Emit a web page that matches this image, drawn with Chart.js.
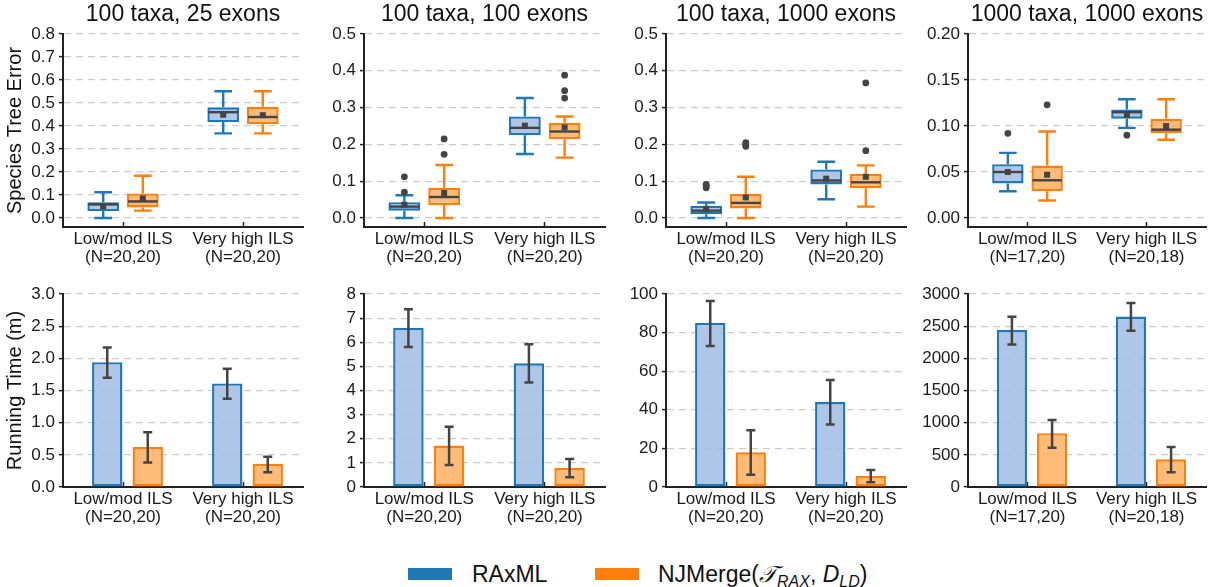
<!DOCTYPE html>
<html>
<head>
<meta charset="utf-8">
<script src="https://cdn.jsdelivr.net/npm/chart.js@4.4.1/dist/chart.umd.min.js"></script>
<style>
  body { margin: 0; background: #fff; width: 1211px; height: 587px; position: relative; overflow: hidden;
         font-family: 'Liberation Sans', Arial, sans-serif; color: #111; }
  .panel { position: absolute; }
  .swatch { position: absolute; top: 568px; width: 44px; height: 12px; }
  .key { position: absolute; top: 563px; font-size: 23px; line-height: 23px; white-space: nowrap; color: #111; }
  .key sub { font-size: 16px; font-style: italic; vertical-align: -5px; line-height: 0; }
  .key .cal { font-family: 'DejaVu Serif', serif; font-style: italic; }
</style>
</head>
<body>
<script>
// ---- data ----
const categories = ['Low/mod ILS', 'Very high ILS'];
const panelTitles = ['100 taxa, 25 exons', '100 taxa, 100 exons', '100 taxa, 1000 exons', '1000 taxa, 1000 exons'];
const sampleSizes = [
  ['(N=20,20)', '(N=20,20)'],
  ['(N=20,20)', '(N=20,20)'],
  ['(N=20,20)', '(N=20,20)'],
  ['(N=17,20)', '(N=20,18)']
];

// species tree error, per panel and category: [low whisker, q1, median, q3, high whisker]
const raxmlError = [
  [[0.000, 0.030, 0.059, 0.068, 0.112], [0.368, 0.417, 0.460, 0.481, 0.551]],
  [[0.000, 0.020, 0.031, 0.043, 0.062], [0.174, 0.225, 0.245, 0.276, 0.326]],
  [[0.000, 0.010, 0.020, 0.033, 0.042], [0.051, 0.091, 0.102, 0.132, 0.153]],
  [[0.029, 0.0375, 0.050, 0.0585, 0.0708], [0.098, 0.108, 0.115, 0.118, 0.129]]
];
const raxmlErrorMean = [[0.051, 0.449], [0.036, 0.251], [0.025, 0.107], [0.050, 0.112]];
const raxmlErrorOutliers = [
  [[], []],
  [[0.070, 0.112], []],
  [[0.082, 0.087, 0.091], []],
  [[0.092], [0.090]]
];

const njmergeError = [
  [[0.032, 0.046, 0.072, 0.107, 0.184], [0.368, 0.408, 0.439, 0.484, 0.551]],
  [[0.000, 0.035, 0.057, 0.082, 0.144], [0.164, 0.214, 0.235, 0.259, 0.276]],
  [[0.000, 0.026, 0.041, 0.065, 0.112], [0.031, 0.081, 0.097, 0.120, 0.143]],
  [[0.019, 0.029, 0.041, 0.057, 0.094], [0.085, 0.092, 0.096, 0.108, 0.129]]
];
const njmergeErrorMean = [[0.085, 0.447], [0.068, 0.246], [0.056, 0.112], [0.047, 0.100]];
const njmergeErrorOutliers = [
  [[], []],
  [[0.173, 0.215], [0.326, 0.346, 0.388]],
  [[0.195, 0.200, 0.205], [0.183, 0.367]],
  [[0.123], []]
];

// running time in minutes: mean and error bar ends
const raxmlTime = [[1.94, 1.61], [6.60, 5.13], [85, 44], [2440, 2650]];
const raxmlTimeLow = [[1.70, 1.37], [5.80, 4.33], [73, 32.4], [2216, 2429]];
const raxmlTimeHigh = [[2.17, 1.84], [7.37, 5.92], [96.4, 55.5], [2647, 2860]];
const njmergeTime = [[0.62, 0.36], [1.72, 0.80], [18, 5.7], [836, 431]];
const njmergeTimeLow = [[0.38, 0.23], [0.91, 0.40], [6.4, 2.4], [612, 228]];
const njmergeTimeHigh = [[0.85, 0.47], [2.50, 1.16], [29.4, 8.8], [1043, 623]];

// axis ranges
const errorMax = [0.8, 0.5, 0.5, 0.2];
const errorStep = [0.1, 0.1, 0.1, 0.05];
const errorDecimals = [1, 1, 1, 2];
const timeMax = [3, 8, 100, 3000];
const timeStep = [0.5, 1, 20, 500];
const timeDecimals = [1, 0, 0, 0];

// ---- styling ----
const BLUE = '#1f77b4', ORANGE = '#ff7f0e';
const BLUE_FILL = 'rgba(160,189,228,0.85)', ORANGE_FILL = 'rgba(255,175,96,0.85)';
const INK = '#444';
const FONT = "'Liberation Sans', Arial, sans-serif";

Chart.defaults.font.family = FONT;
Chart.defaults.color = '#1a1a1a';

// plot frame per column (left spine, right edge) and per row (top, bottom of plot area)
const spineX = [63, 364, 666, 968];
const rightX = [303, 605, 906, 1206];
const rows = [
  { top: 0, height: 270, plotTop: 34, plotBottom: 227 },
  { top: 270, height: 270, plotTop: 294, plotBottom: 487 }
];

// title over the plot area
const panelTitlePlugin = {
  id: 'panelTitle',
  afterDraw(chart, args, opts) {
    if (!opts.text) return;
    const { ctx, chartArea } = chart;
    ctx.save();
    ctx.font = '23px ' + FONT;
    ctx.fillStyle = '#111';
    ctx.textAlign = 'center';
    ctx.textBaseline = 'middle';
    ctx.fillText(opts.text, (chartArea.left + chartArea.right) / 2, opts.y);
    ctx.restore();
  }
};

// whiskers, medians, means and fliers on top of the floating box bars
const boxPlotPlugin = {
  id: 'boxPlot',
  afterDatasetsDraw(chart) {
    const ctx = chart.ctx;
    const y = chart.scales.y;
    chart.data.datasets.forEach((ds, i) => {
      if (!ds.stats) return;
      chart.getDatasetMeta(i).data.forEach((bar, j) => {
        const [lo, q1, med, q3, hi] = ds.stats[j];
        const x = bar.x, half = bar.width / 2, cap = bar.width * 0.28;
        ctx.save();
        ctx.strokeStyle = ds.borderColor;
        ctx.lineWidth = 2.4;
        ctx.beginPath();
        ctx.moveTo(x, y.getPixelForValue(q3)); ctx.lineTo(x, y.getPixelForValue(hi));
        ctx.moveTo(x, y.getPixelForValue(q1)); ctx.lineTo(x, y.getPixelForValue(lo));
        ctx.moveTo(x - cap, y.getPixelForValue(hi)); ctx.lineTo(x + cap, y.getPixelForValue(hi));
        ctx.moveTo(x - cap, y.getPixelForValue(lo)); ctx.lineTo(x + cap, y.getPixelForValue(lo));
        ctx.stroke();

        ctx.strokeStyle = INK;
        ctx.beginPath();
        ctx.moveTo(x - half + 1, y.getPixelForValue(med));
        ctx.lineTo(x + half - 1, y.getPixelForValue(med));
        ctx.stroke();

        ctx.fillStyle = INK;
        const my = y.getPixelForValue(ds.means[j]);
        ctx.fillRect(x - 3, my - 3, 6, 6);
        ds.outliers[j].forEach(v => {
          ctx.beginPath();
          ctx.arc(x, y.getPixelForValue(v), 3.4, 0, Math.PI * 2);
          ctx.fill();
        });
        ctx.restore();
      });
    });
  }
};

// bars sit a few pixels right of the tick; error bars follow them
const errorBarPlugin = {
  id: 'errorBars',
  beforeDatasetsDraw(chart) {
    chart.ctx.save();
    chart.ctx.translate(4.5, 0);
  },
  afterDatasetsDraw(chart) {
    const ctx = chart.ctx;
    const y = chart.scales.y;
    chart.data.datasets.forEach((ds, i) => {
      chart.getDatasetMeta(i).data.forEach((bar, j) => {
        const x = bar.x;
        const y1 = y.getPixelForValue(ds.errLow[j]);
        const y2 = y.getPixelForValue(ds.errHigh[j]);
        ctx.strokeStyle = INK;
        ctx.lineWidth = 2.5;
        ctx.beginPath();
        ctx.moveTo(x, y1); ctx.lineTo(x, y2);
        ctx.moveTo(x - 4.5, y1); ctx.lineTo(x + 4.5, y1);
        ctx.moveTo(x - 4.5, y2); ctx.lineTo(x + 4.5, y2);
        ctx.stroke();
      });
    });
    ctx.restore();
  }
};

function axisLabels(col) {
  return categories.map((c, k) => [c, sampleSizes[col][k]]);
}

function scalesFor(col, row, max, step, decimals, min, yTitle) {
  const left = col === 0 ? 0 : spineX[col] - 60;
  const r = rows[row];
  return {
    x: {
      offset: true,
      afterFit: s => { s.height = r.top + r.height - r.plotBottom; },
      ticks: { padding: 7.5, font: { size: 17, lineHeight: 1.1 }, maxRotation: 0, autoSkip: false },
      grid: { offset: false, drawOnChartArea: false, drawTicks: true, tickLength: -5,
              tickColor: '#222', tickWidth: 1.5 },
      border: { color: '#222', width: 2 }
    },
    y: {
      min: min, max: max,
      afterFit: s => { s.width = spineX[col] - left; },
      ticks: { stepSize: step, includeBounds: false, padding: 4, font: { size: 17 },
               callback: v => v.toFixed(decimals) },
      grid: { color: '#cccccc', lineWidth: 1.2, tickLength: 4, tickColor: '#222', tickWidth: 1.5,
              tickBorderDash: [] },
      border: { color: '#222', width: 2, dash: [7, 5] },
      title: { display: !!yTitle, text: yTitle || '', font: { size: 20 }, color: '#111',
               padding: { top: 3, bottom: 0 } }
    }
  };
}

function makePanel(col, row, config) {
  const left = col === 0 ? 0 : spineX[col] - 60;
  const r = rows[row];
  const div = document.createElement('div');
  div.className = 'panel';
  div.style.left = left + 'px';
  div.style.top = r.top + 'px';
  div.style.width = (rightX[col] - left + 2) + 'px';
  div.style.height = r.height + 'px';
  const canvas = document.createElement('canvas');
  div.appendChild(canvas);
  document.body.appendChild(div);
  config.options.responsive = true;
  config.options.maintainAspectRatio = false;
  config.options.animation = false;
  config.options.layout = { padding: { top: r.plotTop - r.top, right: 2, left: 0, bottom: 0 } };
  return new Chart(canvas, config);
}

for (let c = 0; c < 4; c++) {
  // species tree error boxes
  makePanel(c, 0, {
    type: 'bar',
    data: {
      labels: axisLabels(c),
      datasets: [
        { label: 'RAxML', data: raxmlError[c].map(s => [s[1], s[3]]), stats: raxmlError[c],
          means: raxmlErrorMean[c], outliers: raxmlErrorOutliers[c],
          backgroundColor: BLUE_FILL, borderColor: BLUE, borderWidth: 2.4, borderSkipped: false,
          categoryPercentage: 0.66, barPercentage: 0.8 },
        { label: 'NJMerge', data: njmergeError[c].map(s => [s[1], s[3]]), stats: njmergeError[c],
          means: njmergeErrorMean[c], outliers: njmergeErrorOutliers[c],
          backgroundColor: ORANGE_FILL, borderColor: ORANGE, borderWidth: 2.4, borderSkipped: false,
          categoryPercentage: 0.66, barPercentage: 0.8 }
      ]
    },
    options: {
      scales: scalesFor(c, 0, errorMax[c], errorStep[c], errorDecimals[c], -errorMax[c] * 9 / 184,
                        c === 0 ? 'Species Tree Error' : null),
      plugins: { legend: { display: false }, tooltip: { enabled: false },
                 panelTitle: { text: panelTitles[c], y: 15 } }
    },
    plugins: [panelTitlePlugin, boxPlotPlugin]
  });

  // running time bars
  makePanel(c, 1, {
    type: 'bar',
    data: {
      labels: axisLabels(c),
      datasets: [
        { label: 'RAxML', data: raxmlTime[c], errLow: raxmlTimeLow[c], errHigh: raxmlTimeHigh[c],
          backgroundColor: BLUE_FILL, borderColor: BLUE, borderWidth: 2.4, borderSkipped: false,
          categoryPercentage: 0.675, barPercentage: 0.75 },
        { label: 'NJMerge', data: njmergeTime[c], errLow: njmergeTimeLow[c], errHigh: njmergeTimeHigh[c],
          backgroundColor: ORANGE_FILL, borderColor: ORANGE, borderWidth: 2.4, borderSkipped: false,
          categoryPercentage: 0.675, barPercentage: 0.75 }
      ]
    },
    options: {
      scales: scalesFor(c, 1, timeMax[c], timeStep[c], timeDecimals[c], 0,
                        c === 0 ? 'Running Time (m)' : null),
      plugins: { legend: { display: false }, tooltip: { enabled: false } }
    },
    plugins: [errorBarPlugin]
  });
}

// shared legend under the panels
const legendItems = [
  { color: BLUE, swatchX: 408, textX: 472, html: 'RAxML' },
  { color: ORANGE, swatchX: 595, textX: 658,
    html: 'NJMerge(<span class="cal">\u{1D4AF}</span><sub>RAX</sub>, <i>D</i><sub>LD</sub>)' }
];
legendItems.forEach(item => {
  const sw = document.createElement('div');
  sw.className = 'swatch';
  sw.style.left = item.swatchX + 'px';
  sw.style.background = item.color;
  document.body.appendChild(sw);
  const key = document.createElement('div');
  key.className = 'key';
  key.style.left = item.textX + 'px';
  key.innerHTML = item.html;
  document.body.appendChild(key);
});
</script>
</body>
</html>
